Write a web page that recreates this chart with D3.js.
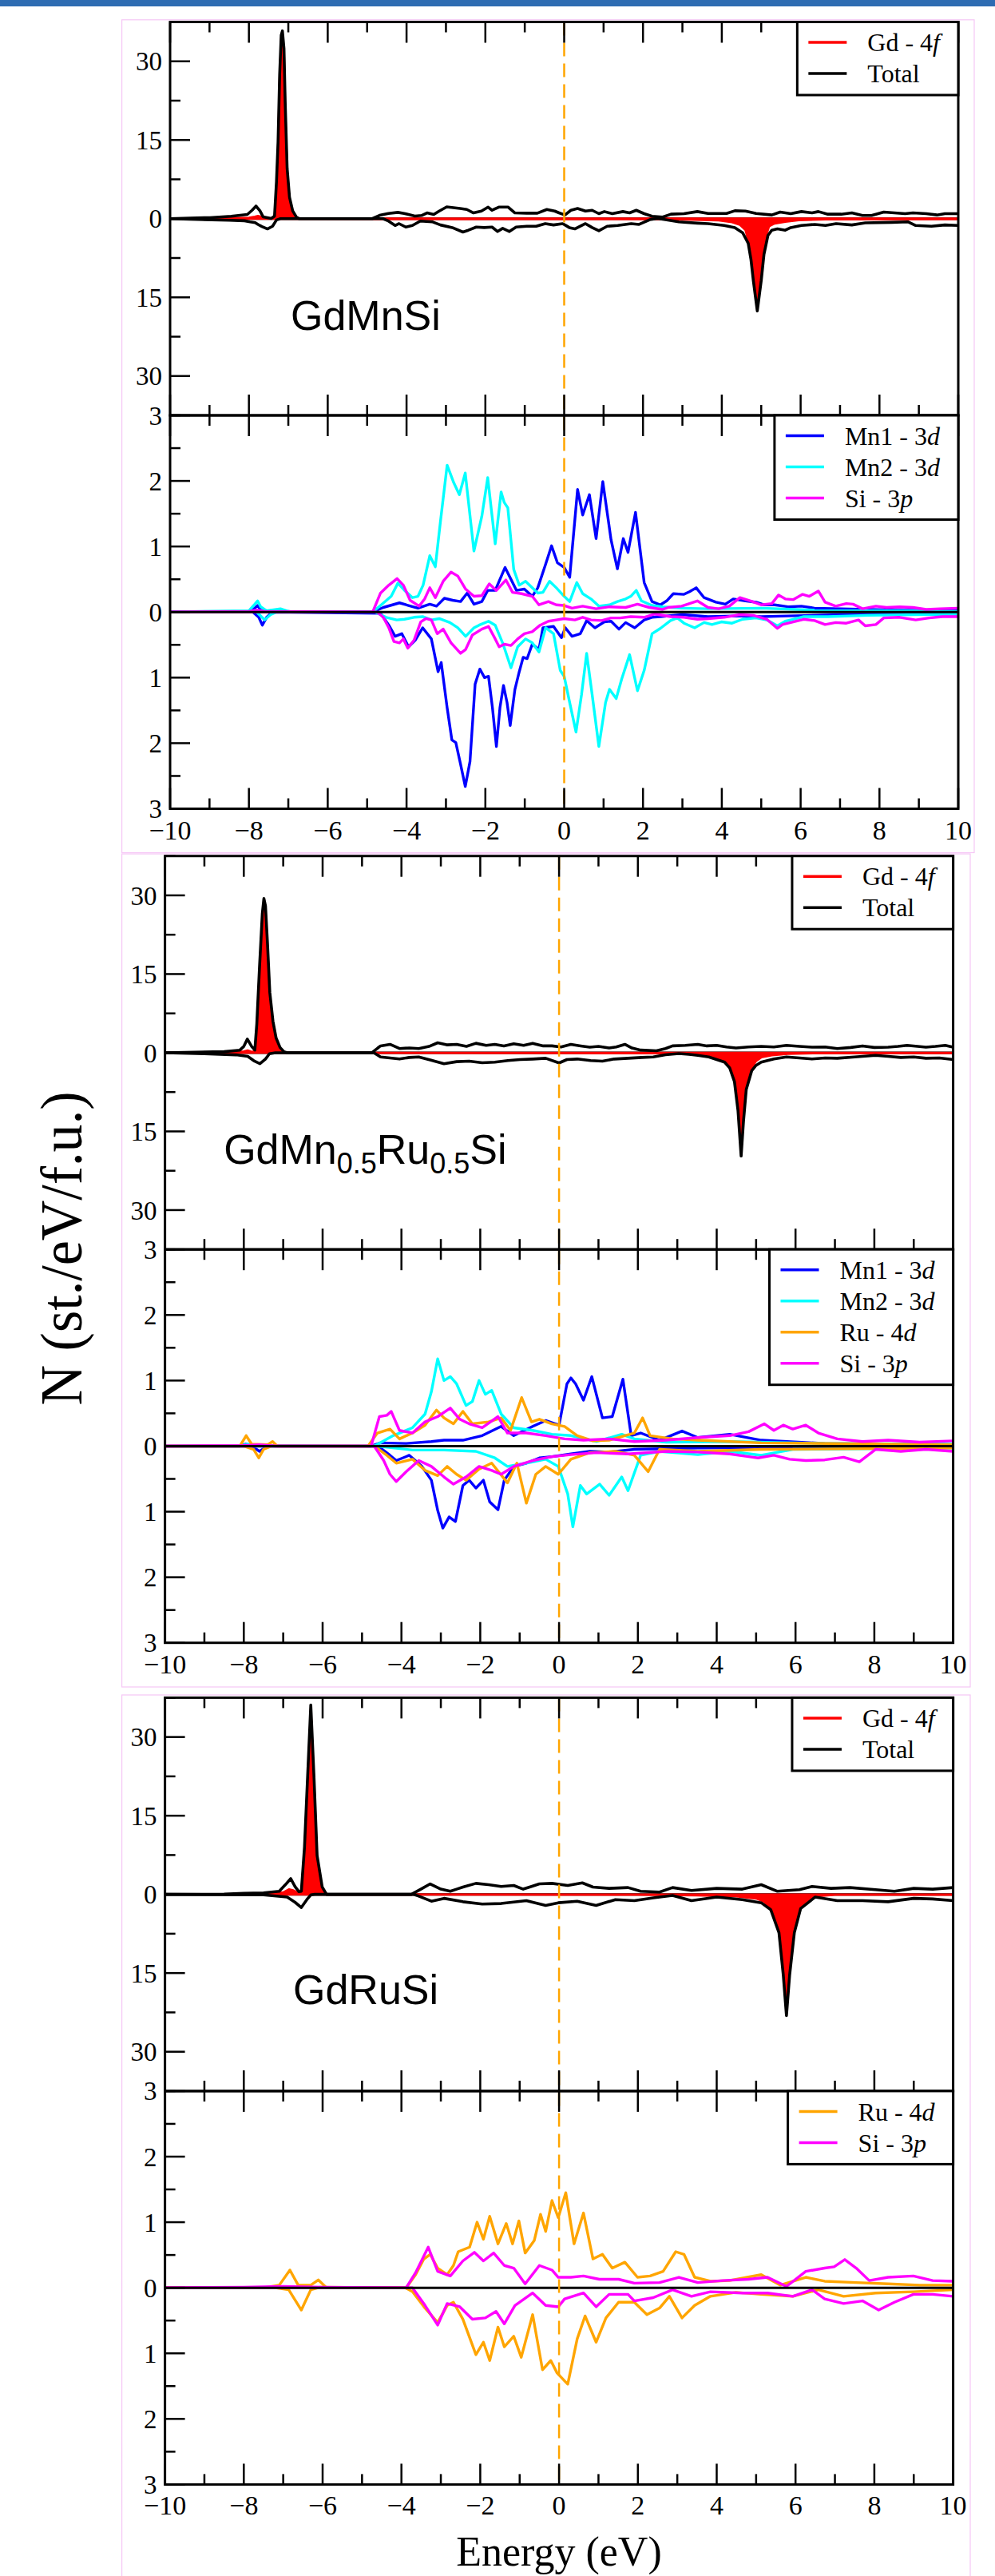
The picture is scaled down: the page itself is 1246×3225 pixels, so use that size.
<!DOCTYPE html>
<html><head><meta charset="utf-8">
<script src="https://cdn.jsdelivr.net/npm/d3@7"></script>
<style>
html,body{margin:0;padding:0;background:#fff;}
svg{display:block;}
</style></head><body>
<svg id="fig" width="1246" height="3225"></svg>
<script>
// ---------- Spin-resolved DOS, [energy (eV), N (st./eV/f.u.)]; spin-down stored negative ----------

// GdMnSi: Gd-4f and total
const mnsiGdUp = [[-10,0],[-9.5,0.05],[-8.5,0.15],[-8.0,0.2],[-7.85,0.4],[-7.77,0.55],[-7.65,0.3],[-7.5,0.1],[-7.4,0.05],[-7.33,0.3],[-7.3,6.8],[-7.26,14.3],[-7.22,27],[-7.18,34.5],[-7.15,35.2],[-7.11,32],[-7.08,22],[-7.03,9.3],[-6.97,3.9],[-6.89,1.3],[-6.79,0.2],[-6.72,0.05],[-6.5,0.02],[10,0.03]];
const mnsiGdDn = [[-10,0],[-7.4,-0.05],[-4.8,-0.1],[0,-0.12],[2.0,-0.12],[2.91,-0.15],[3.5,-0.25],[3.92,-0.35],[4.26,-0.7],[4.46,-1.2],[4.6,-2.2],[4.67,-4.2],[4.74,-7.4],[4.8,-11.4],[4.9,-17.2],[5.0,-11.4],[5.07,-6.4],[5.13,-3.2],[5.2,-1.45],[5.34,-0.95],[5.61,-0.6],[5.95,-0.3],[6.63,-0.15],[10,-0.12]];
const mnsiTotUp = [[-10,0],[-9.49,0.1],[-8.99,0.2],[-8.45,0.45],[-8.04,0.8],[-7.92,1.6],[-7.82,2.4],[-7.72,1.5],[-7.64,0.35],[-7.43,0.05],[-7.35,0.5],[-7.3,7.1],[-7.26,14.7],[-7.22,27.4],[-7.18,35],[-7.15,35.8],[-7.11,32.4],[-7.08,22.3],[-7.03,9.6],[-6.97,4.1],[-6.89,1.5],[-6.79,0.25],[-6.72,0],[-4.87,0],[-4.66,0.7],[-4.46,1.0],[-4.22,1.2],[-4.06,1.0],[-3.79,0.5],[-3.62,0.6],[-3.48,1.1],[-3.31,0.8],[-3.18,1.4],[-2.98,2.25],[-2.64,1.95],[-2.47,1.75],[-2.3,1.1],[-2.1,1.45],[-1.93,2.2],[-1.83,1.6],[-1.66,2.2],[-1.42,2.2],[-1.25,1.1],[-0.95,1.05],[-0.68,1.05],[-0.44,1.75],[-0.24,1.45],[-0.13,1.1],[0.02,0.7],[0.17,1.6],[0.34,1.95],[0.54,1.45],[0.71,1.6],[0.88,0.95],[1.02,1.35],[1.22,0.95],[1.49,1.35],[1.66,1.1],[1.83,1.6],[2.03,0.95],[2.23,0.45],[2.5,0.3],[2.71,0.85],[3.04,0.95],[3.38,1.35],[3.65,1.0],[4.12,1.0],[4.33,1.5],[4.6,1.45],[4.87,1.0],[5.27,0.7],[5.48,1.25],[5.75,0.95],[6.02,1.35],[6.29,1.1],[6.45,1.35],[6.69,0.85],[7.03,0.85],[7.3,1.1],[7.57,0.6],[7.8,0.6],[8.11,1.25],[8.38,1.1],[8.65,0.95],[8.85,1.1],[9.19,0.95],[9.46,0.7],[9.66,0.95],[10,0.95]];
const mnsiTotDn = [[-10,0],[-9.5,-0.1],[-8.5,-0.3],[-8.11,-0.4],[-7.97,-0.6],[-7.84,-0.75],[-7.77,-1.1],[-7.67,-1.5],[-7.53,-1.95],[-7.4,-1.45],[-7.3,-0.25],[-7.2,0],[-4.6,0],[-4.46,-0.45],[-4.29,-1.3],[-4.19,-0.95],[-4.02,-1.6],[-3.85,-1.3],[-3.65,-0.45],[-3.35,-0.6],[-3.14,-1.2],[-2.84,-1.7],[-2.57,-2.55],[-2.43,-2.2],[-2.23,-1.6],[-2.03,-1.7],[-1.83,-1.6],[-1.69,-2.45],[-1.56,-1.85],[-1.39,-2.45],[-1.22,-1.6],[-0.95,-1.45],[-0.71,-1.45],[-0.48,-0.95],[-0.27,-1.2],[-0.04,-0.95],[0.02,-1.2],[0.13,-1.7],[0.27,-1.95],[0.54,-0.95],[0.71,-1.7],[0.88,-2.3],[1.09,-1.45],[1.36,-1.3],[1.7,-0.95],[1.9,-1.1],[2.17,-0.2],[2.37,0.05],[2.57,-0.2],[2.91,-0.6],[3.38,-0.85],[3.65,-0.95],[4.06,-1.3],[4.33,-1.7],[4.53,-2.7],[4.67,-4.7],[4.74,-7.8],[4.8,-11.8],[4.9,-17.6],[5.0,-11.8],[5.07,-6.8],[5.17,-3.2],[5.27,-2.2],[5.41,-1.95],[5.61,-2.2],[5.75,-1.7],[6.02,-1.3],[6.36,-1.1],[6.63,-1.3],[6.9,-0.95],[7.3,-1.2],[7.64,-0.8],[8.31,-0.7],[8.72,-0.6],[8.92,-1.3],[9.32,-1.45],[9.66,-1.2],[10,-1.3]];

// GdMnSi: Mn1-3d, Mn2-3d, Si-3p
const mnsiMn1Up = [[-10,0],[-8.0,0.01],[-7.85,0.06],[-7.78,0.1],[-7.7,0.03],[-7.5,0],[-4.86,0],[-4.59,0.07],[-4.18,0.14],[-3.95,0.1],[-3.71,0.06],[-3.41,0.12],[-3.24,0.09],[-3.04,0.21],[-2.83,0.18],[-2.63,0.16],[-2.46,0.29],[-2.29,0.12],[-2.09,0.16],[-1.94,0.33],[-1.75,0.33],[-1.5,0.68],[-1.35,0.5],[-1.21,0.33],[-1.01,0.35],[-0.81,0.24],[-0.67,0.37],[-0.47,0.73],[-0.32,1.01],[-0.17,0.75],[0,0.68],[0.14,0.53],[0.34,1.87],[0.47,1.48],[0.64,1.79],[0.81,1.12],[0.98,1.99],[1.19,1.1],[1.35,0.66],[1.5,1.12],[1.62,0.91],[1.81,1.52],[2.03,0.45],[2.23,0.16],[2.44,0.11],[2.6,0.17],[2.77,0.28],[3.04,0.27],[3.18,0.31],[3.35,0.37],[3.55,0.22],[3.85,0.15],[4.09,0.12],[4.29,0.2],[4.6,0.17],[4.87,0.15],[5.07,0.11],[5.34,0.11],[5.68,0.08],[6.02,0.09],[6.35,0.06],[7.03,0.05],[7.7,0.04],[8.38,0.03],[10,0.02]];
const mnsiMn1Dn = [[-10,0],[-7.9,0],[-7.75,-0.08],[-7.66,-0.2],[-7.55,-0.08],[-7.4,0],[-4.66,-0.02],[-4.45,-0.2],[-4.29,-0.37],[-4.12,-0.33],[-3.95,-0.53],[-3.78,-0.43],[-3.59,-0.24],[-3.37,-0.41],[-3.2,-0.91],[-3.12,-0.77],[-2.97,-1.46],[-2.85,-1.95],[-2.75,-1.99],[-2.63,-2.32],[-2.51,-2.66],[-2.39,-2.28],[-2.26,-1.1],[-2.14,-0.87],[-2.02,-1.0],[-1.92,-0.98],[-1.82,-1.46],[-1.72,-2.05],[-1.63,-1.46],[-1.54,-1.12],[-1.45,-1.38],[-1.37,-1.73],[-1.25,-1.18],[-1.14,-0.91],[-1.04,-0.69],[-0.94,-0.71],[-0.81,-0.49],[-0.64,-0.57],[-0.54,-0.24],[-0.27,-0.22],[-0.07,-0.39],[0.03,-0.24],[0.2,-0.37],[0.41,-0.33],[0.57,-0.13],[0.78,-0.24],[1.02,-0.15],[1.19,-0.14],[1.39,-0.26],[1.56,-0.16],[1.79,-0.24],[2.03,-0.12],[2.23,-0.08],[2.43,-0.07],[3.0,-0.04],[3.65,-0.07],[4.33,-0.06],[5.0,-0.07],[5.68,-0.06],[7.0,-0.04],[10,-0.03]];
const mnsiMn2Up = [[-10,0],[-8.0,0.02],[-7.85,0.12],[-7.78,0.17],[-7.7,0.08],[-7.55,0.02],[-7.2,0.05],[-7.05,0.02],[-6.9,0],[-4.86,0],[-4.66,0.1],[-4.39,0.24],[-4.22,0.44],[-4.05,0.33],[-3.85,0.22],[-3.71,0.24],[-3.58,0.41],[-3.41,0.86],[-3.27,0.69],[-3.14,1.38],[-2.97,2.24],[-2.8,1.97],[-2.66,1.79],[-2.51,2.12],[-2.29,0.93],[-2.09,1.46],[-1.94,2.05],[-1.75,1.04],[-1.6,1.83],[-1.52,1.67],[-1.43,1.59],[-1.28,0.65],[-1.14,0.41],[-0.98,0.47],[-0.67,0.29],[-0.54,0.3],[-0.37,0.47],[-0.2,0.37],[0,0.24],[0.14,0.16],[0.32,0.45],[0.47,0.28],[0.68,0.2],[0.88,0.09],[1.15,0.11],[1.35,0.16],[1.56,0.2],[1.69,0.24],[1.83,0.33],[1.96,0.17],[2.23,0.1],[2.5,0.08],[2.98,0.06],[3.65,0.05],[5.0,0.06],[6.35,0.03],[10,0.01]];
const mnsiMn2Dn = [[-10,0],[-7.8,0],[-7.7,-0.06],[-7.6,-0.12],[-7.45,-0.04],[-7.3,0],[-4.8,0],[-4.52,-0.08],[-4.25,-0.12],[-4.05,-0.11],[-3.81,-0.08],[-3.58,-0.07],[-3.37,-0.12],[-3.17,-0.1],[-2.9,-0.16],[-2.7,-0.24],[-2.5,-0.37],[-2.29,-0.24],[-2.16,-0.2],[-1.92,-0.14],[-1.75,-0.2],[-1.55,-0.49],[-1.35,-0.85],[-1.18,-0.53],[-0.98,-0.41],[-0.81,-0.47],[-0.64,-0.61],[-0.47,-0.24],[-0.27,-0.33],[-0.1,-0.89],[0,-0.98],[0.14,-1.38],[0.3,-1.83],[0.44,-1.26],[0.57,-0.63],[0.71,-1.26],[0.88,-2.05],[1.05,-1.38],[1.15,-1.18],[1.32,-1.32],[1.46,-1.02],[1.66,-0.65],[1.86,-1.2],[2.03,-0.89],[2.23,-0.33],[2.44,-0.25],[2.7,-0.13],[2.87,-0.09],[3.04,-0.17],[3.31,-0.24],[3.55,-0.16],[3.75,-0.19],[3.99,-0.15],[4.26,-0.17],[4.53,-0.11],[4.87,-0.09],[5.14,-0.12],[5.41,-0.21],[5.61,-0.14],[5.81,-0.11],[6.08,-0.07],[6.69,-0.07],[7.7,-0.05],[10,-0.03]];
const mnsiSiUp = [[-10,0],[-8,0.01],[-7.8,0.03],[-7.6,0.01],[-4.86,0],[-4.66,0.29],[-4.45,0.41],[-4.24,0.51],[-4.08,0.41],[-3.91,0.18],[-3.68,0.09],[-3.54,0.2],[-3.41,0.37],[-3.27,0.22],[-3.07,0.47],[-2.87,0.61],[-2.7,0.55],[-2.5,0.35],[-2.29,0.24],[-2.09,0.25],[-1.9,0.43],[-1.72,0.33],[-1.48,0.49],[-1.31,0.3],[-1.08,0.28],[-0.81,0.24],[-0.64,0.11],[-0.4,0.16],[-0.2,0.11],[0,0.1],[0.2,0.06],[0.47,0.09],[0.81,0.05],[1.15,0.08],[1.56,0.07],[1.86,0.12],[2.16,0.07],[2.5,0.04],[2.64,0.07],[2.98,0.09],[3.38,0.17],[3.65,0.07],[3.92,0.05],[4.19,0.09],[4.46,0.22],[4.73,0.17],[5.0,0.11],[5.27,0.13],[5.44,0.26],[5.61,0.2],[5.81,0.19],[6.05,0.27],[6.22,0.24],[6.45,0.32],[6.62,0.15],[6.89,0.09],[7.16,0.13],[7.33,0.12],[7.57,0.05],[7.91,0.09],[8.18,0.07],[8.51,0.08],[8.85,0.07],[9.19,0.04],[9.53,0.05],[10,0.06]];
const mnsiSiDn = [[-10,0],[-4.75,0],[-4.59,-0.08],[-4.45,-0.24],[-4.32,-0.45],[-4.18,-0.47],[-4.08,-0.41],[-3.97,-0.55],[-3.81,-0.43],[-3.64,-0.15],[-3.51,-0.1],[-3.37,-0.12],[-3.22,-0.33],[-3.07,-0.26],[-2.87,-0.47],[-2.63,-0.63],[-2.5,-0.57],[-2.33,-0.35],[-2.09,-0.26],[-1.92,-0.22],[-1.75,-0.41],[-1.65,-0.53],[-1.52,-0.49],[-1.35,-0.51],[-1.18,-0.41],[-1.01,-0.33],[-0.81,-0.3],[-0.61,-0.2],[-0.4,-0.14],[-0.2,-0.12],[0,-0.1],[0.27,-0.12],[0.47,-0.08],[0.68,-0.12],[0.95,-0.13],[1.19,-0.09],[1.42,-0.09],[1.69,-0.07],[2.03,-0.08],[2.3,-0.03],[2.7,-0.07],[3.04,-0.08],[3.38,-0.11],[3.65,-0.1],[4.06,-0.08],[4.46,-0.04],[4.8,-0.05],[5.14,-0.11],[5.41,-0.25],[5.54,-0.19],[5.81,-0.15],[6.08,-0.11],[6.35,-0.13],[6.62,-0.19],[6.89,-0.16],[7.16,-0.17],[7.47,-0.12],[7.64,-0.21],[7.91,-0.19],[8.11,-0.09],[8.51,-0.08],[8.92,-0.12],[9.26,-0.09],[9.6,-0.07],[10,-0.07]];

// GdMn0.5Ru0.5Si: Gd-4f and total
const mrsGdUp = [[-10,0],[-9.5,0.03],[-8.5,0.1],[-8.0,0.25],[-7.9,0.45],[-7.8,0.2],[-7.72,0.3],[-7.67,5],[-7.6,16],[-7.53,26],[-7.49,28.8],[-7.45,27.5],[-7.4,20.5],[-7.34,11],[-7.26,5.5],[-7.18,2.5],[-7.08,0.8],[-6.98,0.1],[-6.9,0],[10,0]];
const mrsGdDn = [[-10,0],[-4.7,-0.05],[0,-0.1],[2.5,-0.12],[3.0,-0.2],[3.5,-0.35],[3.8,-0.6],[4.0,-1.0],[4.2,-1.6],[4.33,-2.6],[4.45,-5.2],[4.54,-10.6],[4.62,-19.2],[4.68,-12.6],[4.75,-6.6],[4.89,-3.0],[5.0,-1.6],[5.13,-0.9],[5.4,-0.5],[5.8,-0.25],[6.5,-0.12],[10,-0.1]];
const mrsTotUp = [[-10,0],[-9.5,0.08],[-8.5,0.2],[-8.1,0.5],[-8.0,1.2],[-7.91,2.6],[-7.8,1.2],[-7.72,0.5],[-7.67,5.5],[-7.6,16.5],[-7.53,26.5],[-7.49,29.4],[-7.45,28],[-7.4,21],[-7.34,11.5],[-7.26,6],[-7.18,2.8],[-7.08,1.0],[-6.98,0.2],[-6.9,0],[-4.75,0],[-4.6,0.9],[-4.53,1.3],[-4.29,1.6],[-4.05,0.8],[-3.8,0.9],[-3.56,0.8],[-3.3,1.2],[-3.08,1.9],[-2.85,1.5],[-2.6,1.6],[-2.35,1.2],[-2.11,1.8],[-1.85,1.4],[-1.63,1.6],[-1.4,1.3],[-1.15,1.7],[-0.9,1.4],[-0.67,1.8],[-0.4,1.3],[-0.18,1.3],[0.05,1.1],[0.3,1.6],[0.55,1.3],[0.78,1.05],[1.0,1.2],[1.27,0.9],[1.45,1.1],[1.67,1.6],[1.85,0.9],[2.07,0.5],[2.47,0.37],[2.7,0.8],[2.88,1.3],[3.2,1.4],[3.52,1.6],[3.75,1.3],[4.0,1.4],[4.25,1.1],[4.49,0.9],[4.8,1.1],[5.13,1.2],[5.45,1.1],[5.77,1.4],[6.1,1.2],[6.42,1.05],[6.75,1.1],[7.06,0.8],[7.4,1.0],[7.7,1.3],[8.0,1.0],[8.35,1.05],[8.6,1.2],[8.83,1.4],[9.1,1.2],[9.31,1.05],[9.55,1.2],[9.8,1.4],[10,1.05]];
const mrsTotDn = [[-10,0],[-9,-0.2],[-8.2,-0.4],[-7.9,-0.7],[-7.75,-1.5],[-7.59,-2.1],[-7.45,-1.2],[-7.35,-0.2],[-7.2,0],[-4.7,0],[-4.53,-0.8],[-4.29,-1.0],[-4.05,-1.2],[-3.8,-0.9],[-3.56,-0.8],[-3.25,-1.4],[-2.92,-2.1],[-2.6,-1.7],[-2.28,-1.6],[-1.95,-1.9],[-1.63,-1.8],[-1.3,-1.5],[-0.99,-1.3],[-0.67,-1.2],[-0.34,-1.05],[0,-1.95],[0.2,-1.3],[0.46,-1.2],[0.8,-1.5],[1.1,-1.6],[1.4,-1.2],[1.75,-1.05],[2.1,-0.9],[2.39,-0.8],[2.7,-0.4],[3.04,-0.15],[3.3,-0.3],[3.52,-0.5],[3.8,-0.8],[4.0,-1.3],[4.2,-1.8],[4.33,-2.9],[4.45,-5.5],[4.54,-11],[4.62,-19.7],[4.68,-13],[4.75,-7],[4.89,-3.4],[5.0,-2.4],[5.13,-1.8],[5.45,-1.2],[5.77,-0.8],[6.1,-1.0],[6.42,-1.2],[6.75,-1.0],[7.06,-1.05],[7.5,-0.8],[8.03,-0.5],[8.35,-0.7],[8.67,-0.9],[9.0,-0.8],[9.31,-1.05],[9.65,-1.0],[10,-1.3]];

// GdMn0.5Ru0.5Si: Mn1-3d, Mn2-3d, Ru-4d, Si-3p
const mrsMn1Up = [[-10,0],[-8.1,0],[-7.95,0.03],[-7.8,0.01],[-4.77,0],[-4.53,0.05],[-3.88,0.04],[-3.24,0.07],[-2.92,0.09],[-2.44,0.09],[-1.95,0.16],[-1.47,0.3],[-1.15,0.16],[-0.67,0.3],[-0.34,0.39],[0,0.32],[0.2,0.95],[0.3,1.04],[0.42,0.95],[0.62,0.7],[0.83,1.06],[1.1,0.43],[1.35,0.45],[1.62,1.02],[1.83,0.16],[2.07,0.2],[2.55,0.09],[3.12,0.23],[3.52,0.13],[4.33,0.18],[5.13,0.09],[6.74,0.04],[10,0.02]];
const mrsMn1Dn = [[-10,0],[-7.8,0],[-7.6,-0.08],[-7.4,0],[-4.6,0],[-4.53,-0.03],[-4.29,-0.14],[-4.13,-0.22],[-3.8,-0.14],[-3.48,-0.31],[-3.24,-0.52],[-3.08,-0.98],[-2.95,-1.25],[-2.79,-1.08],[-2.63,-1.15],[-2.44,-0.6],[-2.28,-0.52],[-2.11,-0.64],[-1.92,-0.52],[-1.76,-0.85],[-1.55,-0.97],[-1.39,-0.52],[-1.15,-0.31],[-0.83,-0.26],[-0.5,-0.18],[-0.18,-0.16],[0.3,-0.12],[0.78,-0.08],[1.27,-0.09],[1.91,-0.05],[3.52,-0.03],[10,-0.01]];
const mrsMn2Up = [[-10,0],[-8.1,0],[-7.9,0.03],[-7.7,0],[-4.69,0],[-4.21,0.16],[-3.72,0.28],[-3.4,0.49],[-3.24,0.83],[-3.08,1.33],[-2.92,1.0],[-2.76,1.06],[-2.6,0.95],[-2.36,0.62],[-2.2,0.68],[-2.03,1.0],[-1.87,0.79],[-1.71,0.85],[-1.47,0.49],[-1.15,0.28],[-0.67,0.24],[-0.18,0.18],[0.3,0.16],[0.95,0.07],[1.59,0.18],[1.91,0.11],[2.72,0.06],[4.33,0.07],[6.74,0.04],[10,0.03]];
const mrsMn2Dn = [[-10,0],[-4.6,0],[-3.72,-0.06],[-2.92,-0.06],[-2.11,-0.08],[-1.63,-0.18],[-1.31,-0.31],[-0.83,-0.26],[-0.34,-0.2],[-0.02,-0.31],[0.22,-0.73],[0.35,-1.23],[0.54,-0.6],[0.7,-0.73],[1.03,-0.58],[1.27,-0.75],[1.59,-0.47],[1.75,-0.68],[2.07,-0.14],[2.55,-0.08],[3.52,-0.13],[4.33,-0.08],[5.13,-0.14],[5.93,-0.05],[10,-0.03]];
const mrsRuUp = [[-10,0],[-8.1,0],[-7.94,0.16],[-7.8,0.03],[-7.4,0.02],[-7.27,0.07],[-7.15,0],[-4.85,0],[-4.61,0.2],[-4.29,0.26],[-4.05,0.11],[-3.72,0.2],[-3.4,0.32],[-3.11,0.55],[-2.92,0.43],[-2.68,0.34],[-2.44,0.53],[-2.2,0.34],[-1.79,0.37],[-1.47,0.43],[-1.23,0.24],[-0.95,0.74],[-0.7,0.37],[-0.5,0.41],[-0.18,0.34],[0.14,0.3],[0.46,0.16],[0.86,0.08],[1.27,0.09],[1.67,0.16],[1.91,0.2],[2.12,0.43],[2.31,0.16],[2.88,0.11],[3.52,0.09],[5.13,0.05],[10,0.02]];
const mrsRuDn = [[-10,0],[-8.0,0],[-7.75,-0.05],[-7.62,-0.18],[-7.5,-0.05],[-7.3,0],[-4.69,0],[-4.37,-0.14],[-4.13,-0.26],[-3.72,-0.2],[-3.4,-0.37],[-3.08,-0.45],[-2.84,-0.31],[-2.6,-0.43],[-2.36,-0.52],[-2.03,-0.35],[-1.71,-0.26],[-1.31,-0.56],[-1.07,-0.26],[-0.83,-0.87],[-0.59,-0.43],[-0.34,-0.31],[-0.02,-0.43],[0.3,-0.2],[0.78,-0.1],[1.43,-0.08],[1.91,-0.14],[2.26,-0.39],[2.55,-0.05],[3.52,-0.08],[5.13,-0.05],[10,-0.03]];
const mrsSiUp = [[-10,0],[-8,0.01],[-7.6,0.02],[-7.2,0],[-4.77,0],[-4.56,0.45],[-4.37,0.47],[-4.26,0.53],[-4.05,0.24],[-3.72,0.2],[-3.4,0.37],[-3.08,0.45],[-2.76,0.58],[-2.52,0.41],[-2.28,0.34],[-1.95,0.28],[-1.55,0.45],[-1.31,0.2],[-0.83,0.2],[-0.34,0.16],[0.14,0.11],[0.62,0.09],[1.27,0.11],[1.91,0.07],[2.72,0.09],[3.52,0.13],[4.33,0.16],[4.81,0.22],[5.21,0.34],[5.45,0.24],[5.69,0.32],[5.93,0.26],[6.26,0.32],[6.58,0.2],[7.06,0.11],[7.7,0.07],[8.35,0.09],[9.15,0.06],[10,0.08]];
const mrsSiDn = [[-10,0],[-4.69,0],[-4.45,-0.22],[-4.29,-0.43],[-4.13,-0.54],[-3.88,-0.39],[-3.56,-0.22],[-3.24,-0.31],[-2.92,-0.47],[-2.68,-0.58],[-2.36,-0.47],[-2.03,-0.31],[-1.71,-0.37],[-1.47,-0.43],[-1.15,-0.31],[-0.67,-0.22],[-0.18,-0.16],[0.3,-0.13],[0.95,-0.1],[1.75,-0.12],[2.72,-0.08],[3.52,-0.09],[4.33,-0.12],[4.81,-0.16],[5.05,-0.18],[5.45,-0.14],[5.85,-0.2],[6.26,-0.22],[6.74,-0.21],[7.22,-0.17],[7.62,-0.24],[8.03,-0.05],[8.67,-0.08],[9.31,-0.05],[10,-0.08]];

// GdRuSi: Gd-4f and total
const rusiGdUp = [[-10,0],[-8.5,0.02],[-8.15,0.1],[-7.5,0.15],[-7.0,0.4],[-6.85,1.0],[-6.75,0.8],[-6.62,0.3],[-6.54,0.5],[-6.46,8.5],[-6.38,22],[-6.3,35.5],[-6.22,22],[-6.14,7],[-6.01,1.2],[-5.9,0.1],[-5.8,0],[10,0]];
const rusiGdDn = [[-10,0],[-3.7,-0.05],[2.0,-0.1],[3.5,-0.2],[4.5,-0.4],[5.0,-0.8],[5.2,-1.4],[5.37,-2.6],[5.58,-7.0],[5.69,-15],[5.77,-22.7],[5.85,-15],[5.97,-7.0],[6.1,-2.8],[6.3,-1.2],[6.5,-0.4],[7.0,-0.1],[10,-0.08]];
const rusiTotUp = [[-10,0],[-8.5,0.05],[-8.0,0.2],[-7.5,0.3],[-7.1,0.6],[-6.95,1.8],[-6.81,3.0],[-6.7,1.5],[-6.6,0.5],[-6.54,0.6],[-6.46,9],[-6.38,22.6],[-6.3,36.1],[-6.22,22.6],[-6.14,7.4],[-6.01,1.4],[-5.9,0],[-3.75,0],[-3.6,0.6],[-3.48,1.1],[-3.27,2.0],[-3.0,1.0],[-2.76,0.6],[-2.6,1.0],[-2.44,1.4],[-2.11,2.1],[-1.79,1.85],[-1.47,1.5],[-1.15,1.7],[-0.91,1.0],[-0.7,1.5],[-0.5,2.0],[-0.18,2.1],[0.22,1.7],[0.59,2.2],[0.86,1.4],[1.27,1.15],[1.75,1.3],[2.07,0.6],[2.55,0.45],[2.88,1.3],[3.36,0.75],[4.0,1.15],[4.65,1.0],[5.13,1.85],[5.53,0.6],[6.1,0.9],[6.42,1.5],[6.9,1.15],[7.38,1.3],[8.03,0.9],[8.51,0.6],[9.0,1.15],[9.48,1.0],[10,1.3]];
const rusiTotDn = [[-10,0],[-7.5,-0.1],[-6.9,-0.5],[-6.7,-1.5],[-6.54,-2.5],[-6.4,-1.0],[-6.3,-0.1],[-6.2,0],[-3.7,0],[-3.56,-0.33],[-3.24,-1.3],[-2.92,-0.76],[-2.44,-1.4],[-1.95,-1.85],[-1.47,-1.74],[-0.83,-1.2],[-0.34,-2.1],[-0.02,-1.6],[0.46,-1.3],[0.94,-2.1],[1.43,-1.0],[1.91,-1.2],[2.39,-0.65],[2.88,-0.2],[3.36,-1.2],[4.0,-0.5],[4.65,-1.0],[5.13,-1.6],[5.37,-2.9],[5.58,-7.3],[5.69,-15.4],[5.77,-23.1],[5.85,-15.4],[5.97,-7.3],[6.13,-2.7],[6.5,-0.5],[7.06,-1.2],[7.7,-1.2],[8.35,-1.4],[9.0,-0.76],[9.48,-0.87],[10,-1.2]];

// GdRuSi: Ru-4d, Si-3p
const rusiRuUp = [[-10,0],[-7.5,0],[-7.1,0.04],[-6.83,0.27],[-6.62,0.04],[-6.3,0.04],[-6.11,0.12],[-5.9,0],[-3.88,0],[-3.64,0.2],[-3.43,0.44],[-3.27,0.51],[-3.08,0.3],[-2.84,0.2],[-2.68,0.34],[-2.56,0.55],[-2.27,0.62],[-2.08,1.0],[-1.92,0.74],[-1.76,1.09],[-1.55,0.67],[-1.34,0.98],[-1.18,0.67],[-1.02,1.02],[-0.86,0.53],[-0.63,0.72],[-0.47,1.12],[-0.34,0.86],[-0.18,1.33],[-0.02,1.07],[0.17,1.45],[0.38,0.67],[0.62,1.14],[0.86,0.44],[1.1,0.51],[1.35,0.3],[1.67,0.39],[1.99,0.16],[2.31,0.18],[2.64,0.25],[2.96,0.55],[3.17,0.51],[3.44,0.16],[3.84,0.1],[4.32,0.11],[5.13,0.2],[5.61,0.04],[6.26,0.16],[6.74,0.1],[7.54,0.08],[8.35,0.06],[9.15,0.04],[10,0.04]];
const rusiRuDn = [[-10,0],[-7.2,0],[-6.86,-0.03],[-6.54,-0.34],[-6.3,-0.03],[-6.06,0.01],[-3.9,0],[-3.72,-0.06],[-3.4,-0.31],[-3.08,-0.53],[-2.84,-0.27],[-2.68,-0.22],[-2.44,-0.48],[-2.11,-1.02],[-1.92,-0.83],[-1.76,-1.11],[-1.55,-0.6],[-1.39,-0.9],[-1.15,-0.74],[-0.96,-1.06],[-0.67,-0.41],[-0.42,-1.25],[-0.21,-1.11],[-0.05,-1.3],[0.22,-1.47],[0.46,-0.78],[0.66,-0.43],[0.94,-0.83],[1.19,-0.46],[1.51,-0.22],[1.91,-0.22],[2.23,-0.41],[2.55,-0.31],[2.8,-0.13],[3.12,-0.46],[3.44,-0.27],[3.84,-0.13],[4.49,-0.07],[5.13,-0.1],[5.93,-0.13],[6.58,-0.03],[7.22,-0.13],[8.03,-0.08],[8.99,-0.06],[10,-0.03]];
const rusiSiUp = [[-10,0],[-8,0.01],[-7,0.02],[-6,0.01],[-3.88,0],[-3.64,0.23],[-3.32,0.62],[-3.08,0.25],[-2.76,0.18],[-2.44,0.41],[-2.15,0.54],[-1.92,0.41],[-1.66,0.53],[-1.39,0.34],[-1.15,0.3],[-0.86,0.06],[-0.5,0.34],[-0.18,0.27],[-0.02,0.16],[0.3,0.16],[0.62,0.18],[1.02,0.13],[1.51,0.13],[1.91,0.07],[2.55,0.08],[3.04,0.16],[3.52,0.08],[4.16,0.11],[4.81,0.13],[5.29,0.16],[5.77,0.02],[6.26,0.25],[6.74,0.3],[6.98,0.32],[7.25,0.43],[7.54,0.3],[7.87,0.11],[8.35,0.16],[8.99,0.18],[9.48,0.11],[10,0.1]];
const rusiSiDn = [[-10,0],[-3.72,0],[-3.4,-0.27],[-3.08,-0.57],[-2.84,-0.24],[-2.52,-0.29],[-2.2,-0.48],[-1.87,-0.46],[-1.6,-0.36],[-1.39,-0.55],[-1.12,-0.27],[-0.67,-0.08],[-0.34,-0.27],[-0.02,-0.29],[0.14,-0.17],[0.62,-0.08],[0.94,-0.29],[1.27,-0.1],[1.75,-0.1],[1.91,-0.2],[2.39,-0.15],[2.88,-0.03],[3.36,-0.13],[3.84,-0.06],[4.65,-0.08],[5.29,-0.08],[5.93,-0.13],[6.42,-0.03],[6.74,-0.17],[7.22,-0.24],[7.7,-0.2],[8.11,-0.34],[8.51,-0.22],[8.99,-0.1],[9.48,-0.1],[10,-0.13]];

// Axis ticks and labels
const energyMajor = [-10, -8, -6, -4, -2, 0, 2, 4, 6, 8, 10];
const energyMinor = [-9, -7, -5, -3, -1, 1, 3, 5, 7, 9];
const gdMajor = [30, 15, 0, -15, -30];
const gdMinor = [37.5, 22.5, 7.5, -7.5, -22.5, -37.5];
const pdosMajor = [3, 2, 1, 0, -1, -2, -3];
const pdosMinor = [2.5, 1.5, 0.5, -0.5, -1.5, -2.5];

// Colours of the projected channels
const colors = { gd: "#ff0000", total: "#000000", mn1: "#0000ff", mn2: "#00ffff", ru: "#ffa500", si: "#ff00ff" };

// ---------- Layout ----------
const svg = d3.select("#fig");
const SERIF = "'Liberation Serif','Times New Roman',serif";
const SANS = "'Liberation Sans',Arial,sans-serif";
const PW = 987, SH = 492.5;

svg.append("rect").attr("x", 0).attr("y", 0).attr("width", 1246).attr("height", 8).attr("fill", "#2e6cb2");

const panels = [
  { left: 213, top: 27.5, frame: [152.6, 24.8, 1067.4, 1042.7],
    name: [{t: "GdMnSi"}], namePos: [-6.94, -21.2],
    top_: { gdUp: mnsiGdUp, gdDn: mnsiGdDn, totUp: mnsiTotUp, totDn: mnsiTotDn },
    pdos: [
      { key: "mn1", label: ["Mn1 - 3", "d"], up: mnsiMn1Up, dn: mnsiMn1Dn },
      { key: "mn2", label: ["Mn2 - 3", "d"], up: mnsiMn2Up, dn: mnsiMn2Dn },
      { key: "si",  label: ["Si - 3", "p"],  up: mnsiSiUp,  dn: mnsiSiDn }
    ] },
  { left: 206.6, top: 1071.7, frame: [152.6, 1069, 1062.4, 1043],
    name: [{t: "GdMn"}, {t: "0.5", sub: true}, {t: "Ru"}, {t: "0.5", sub: true}, {t: "Si"}], namePos: [-8.51, -21.2],
    top_: { gdUp: mrsGdUp, gdDn: mrsGdDn, totUp: mrsTotUp, totDn: mrsTotDn },
    pdos: [
      { key: "mn1", label: ["Mn1 - 3", "d"], up: mrsMn1Up, dn: mrsMn1Dn },
      { key: "mn2", label: ["Mn2 - 3", "d"], up: mrsMn2Up, dn: mrsMn2Dn },
      { key: "ru",  label: ["Ru - 4", "d"],  up: mrsRuUp,  dn: mrsRuDn },
      { key: "si",  label: ["Si - 3", "p"],  up: mrsSiUp,  dn: mrsSiDn }
    ] },
  { left: 206.6, top: 2125.4, frame: [152.6, 2122, 1062.4, 1120],
    name: [{t: "GdRuSi"}], namePos: [-6.75, -20.9],
    top_: { gdUp: rusiGdUp, gdDn: rusiGdDn, totUp: rusiTotUp, totDn: rusiTotDn },
    pdos: [
      { key: "ru",  label: ["Ru - 4", "d"],  up: rusiRuUp,  dn: rusiRuDn },
      { key: "si",  label: ["Si - 3", "p"],  up: rusiSiUp,  dn: rusiSiDn }
    ] }
];

let clipId = 0;

function drawLegend(g, x1, y0, items) {
  const lg = g.append("g");
  const box = lg.append("rect").attr("fill", "#fff").attr("stroke", "#000").attr("stroke-width", 3);
  let maxW = 0;
  items.forEach((it, i) => {
    const cy = y0 + 25.5 + i * 39;
    lg.append("line").attr("y1", cy).attr("y2", cy).attr("stroke", it.color).attr("stroke-width", 3.5).attr("class", "lgline");
    const t = lg.append("text").attr("y", cy).attr("dy", "0.35em")
      .attr("font-family", SERIF).attr("font-size", 32).attr("fill", "#000");
    t.append("tspan").text(it.label[0]);
    if (it.label[1]) t.append("tspan").attr("font-style", "italic").text(it.label[1]);
    maxW = Math.max(maxW, t.node().getComputedTextLength());
  });
  const w = 88 + maxW + 23;
  const x0 = x1 - w;
  const h = 25.5 + (items.length - 1) * 39 + 27;
  box.attr("x", x0).attr("y", y0).attr("width", w).attr("height", h);
  lg.selectAll("line.lgline").attr("x1", x0 + 14).attr("x2", x0 + 62);
  lg.selectAll("text").attr("x", x0 + 88);
}

function drawFrameAndTicks(g, x, y, yMajor, yMinor, yFmt, withXLabels) {
  const [x0, x1] = x.range();
  const [yb, yt] = y.range();
  // y ticks on the left axis, pointing inwards
  yMajor.forEach(v => {
    g.append("line").attr("x1", x0).attr("x2", x0 + 25).attr("y1", y(v)).attr("y2", y(v)).attr("stroke", "#000").attr("stroke-width", 2.5);
    g.append("text").attr("x", x0 - 10).attr("y", y(v)).attr("dy", "0.35em").attr("text-anchor", "end")
      .attr("font-family", SERIF).attr("font-size", 33).text(yFmt(v));
  });
  yMinor.forEach(v => {
    g.append("line").attr("x1", x0).attr("x2", x0 + 13).attr("y1", y(v)).attr("y2", y(v)).attr("stroke", "#000").attr("stroke-width", 2.5);
  });
  // x ticks on top and bottom edges, pointing inwards
  energyMajor.forEach(v => {
    g.append("line").attr("x1", x(v)).attr("x2", x(v)).attr("y1", yt).attr("y2", yt + 26).attr("stroke", "#000").attr("stroke-width", 2.5);
    g.append("line").attr("x1", x(v)).attr("x2", x(v)).attr("y1", yb).attr("y2", yb - 26).attr("stroke", "#000").attr("stroke-width", 2.5);
  });
  energyMinor.forEach(v => {
    g.append("line").attr("x1", x(v)).attr("x2", x(v)).attr("y1", yt).attr("y2", yt + 13).attr("stroke", "#000").attr("stroke-width", 2.5);
    g.append("line").attr("x1", x(v)).attr("x2", x(v)).attr("y1", yb).attr("y2", yb - 13).attr("stroke", "#000").attr("stroke-width", 2.5);
  });
  if (withXLabels) {
    const fmt = d3.format("d");
    energyMajor.forEach(v => {
      g.append("text").attr("x", x(v)).attr("y", yb + 38).attr("text-anchor", "middle")
        .attr("font-family", SERIF).attr("font-size", 34).text(fmt(v));
    });
  }
  g.append("rect").attr("x", x0).attr("y", yt).attr("width", x1 - x0).attr("height", yb - yt)
    .attr("fill", "none").attr("stroke", "#000").attr("stroke-width", 3);
}

panels.forEach(p => {
  const g = svg.append("g");
  // light frame around each compound's figure
  g.append("rect").attr("x", p.frame[0]).attr("y", p.frame[1]).attr("width", p.frame[2]).attr("height", p.frame[3])
    .attr("fill", "none").attr("stroke", "#f6c6f6").attr("stroke-width", 1.2);

  const x = d3.scaleLinear().domain([-10, 10]).range([p.left, p.left + PW]);
  const yTop = d3.scaleLinear().domain([-37.5, 37.5]).range([p.top + SH, p.top]);
  const yBot = d3.scaleLinear().domain([-3, 3]).range([p.top + 2 * SH, p.top + SH]);

  // ---- upper plot: Gd-4f (filled) and total DOS ----
  {
    const id = "clip" + (clipId++);
    svg.append("clipPath").attr("id", id).append("rect")
      .attr("x", p.left).attr("y", p.top).attr("width", PW).attr("height", SH);
    const c = g.append("g").attr("clip-path", `url(#${id})`);
    const line = d3.line().x(d => x(d[0])).y(d => yTop(d[1]));
    const area = d3.area().x(d => x(d[0])).y0(yTop(0)).y1(d => yTop(d[1]));
    c.append("line").attr("x1", p.left).attr("x2", p.left + PW).attr("y1", yTop(0)).attr("y2", yTop(0)).attr("stroke", "#000").attr("stroke-width", 3);
    [p.top_.gdUp, p.top_.gdDn].forEach(s => {
      c.append("path").attr("d", area(s)).attr("fill", colors.gd);
      c.append("path").attr("d", line(s)).attr("fill", "none").attr("stroke", colors.gd).attr("stroke-width", 2.5).attr("stroke-linejoin", "round");
    });
    [p.top_.totUp, p.top_.totDn].forEach(s => {
      c.append("path").attr("d", line(s)).attr("fill", "none").attr("stroke", colors.total).attr("stroke-width", 3.6).attr("stroke-linejoin", "round");
    });
    // compound name
    const nm = g.append("text").attr("x", x(p.namePos[0])).attr("y", yTop(p.namePos[1]))
      .attr("font-family", SANS).attr("font-size", 52).attr("fill", "#000");
    p.name.forEach((part, i) => {
      const ts = nm.append("tspan").text(part.t);
      if (part.sub) ts.attr("font-size", 36).attr("dy", 12);
      else if (i > 0) ts.attr("dy", -12);
    });
  }

  // ---- lower plot: projected d / p DOS ----
  {
    const id = "clip" + (clipId++);
    svg.append("clipPath").attr("id", id).append("rect")
      .attr("x", p.left).attr("y", p.top + SH).attr("width", PW).attr("height", SH);
    const c = g.append("g").attr("clip-path", `url(#${id})`);
    const line = d3.line().x(d => x(d[0])).y(d => yBot(d[1]));
    p.pdos.forEach(s => {
      [s.up, s.dn].forEach(d => {
        c.append("path").attr("d", line(d)).attr("fill", "none").attr("stroke", colors[s.key])
          .attr("stroke-width", 3.4).attr("stroke-linejoin", "round");
      });
    });
    c.append("line").attr("x1", p.left).attr("x2", p.left + PW).attr("y1", yBot(0)).attr("y2", yBot(0)).attr("stroke", "#000").attr("stroke-width", 3);
  }

  // Fermi level
  g.append("line").attr("x1", x(0)).attr("x2", x(0)).attr("y1", p.top).attr("y2", p.top + 2 * SH)
    .attr("stroke", "#ffa500").attr("stroke-width", 2.5).attr("stroke-dasharray", "17,9");

  const absFmt = v => String(Math.abs(v));
  drawFrameAndTicks(g, x, yTop, gdMajor, gdMinor, absFmt, false);
  drawFrameAndTicks(g, x, yBot, pdosMajor, pdosMinor, absFmt, true);

  drawLegend(g, p.left + PW, p.top, [
    { color: colors.gd, label: ["Gd - 4", "f"] },
    { color: colors.total, label: ["Total"] }
  ]);
  drawLegend(g, p.left + PW, p.top + SH, p.pdos.map(s => ({ color: colors[s.key], label: s.label })));
});

// shared axis titles
svg.append("text").attr("transform", "translate(102,1563) rotate(-90)").attr("text-anchor", "middle")
  .attr("font-family", SERIF).attr("font-size", 75)
  .attr("textLength", 393).attr("lengthAdjust", "spacingAndGlyphs").text("N (st./eV/f.u.)");
svg.append("text").attr("x", 700).attr("y", 3212).attr("text-anchor", "middle")
  .attr("font-family", SERIF).attr("font-size", 52).text("Energy (eV)");
</script></body></html>
